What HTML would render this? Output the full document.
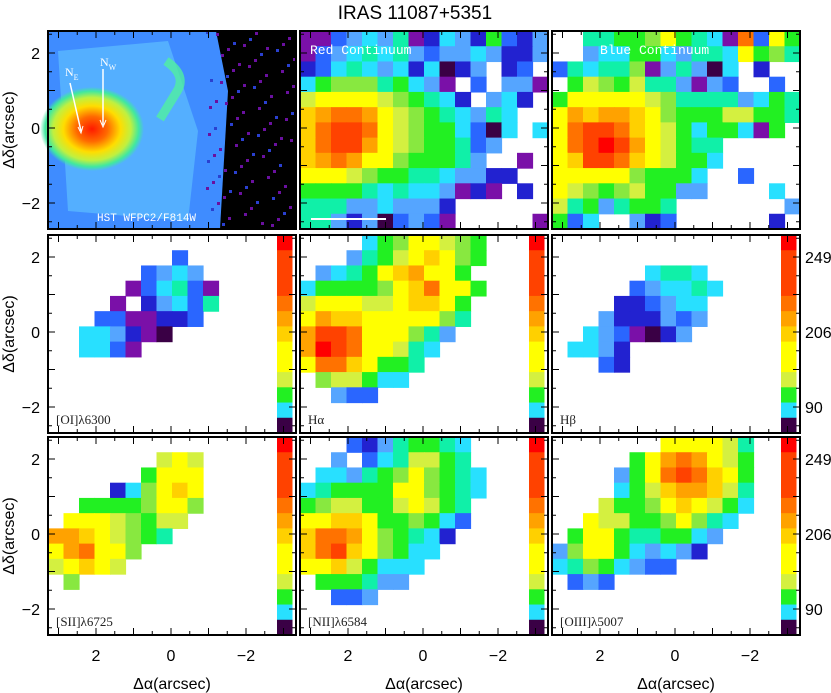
<!DOCTYPE html>
<html><head><meta charset="utf-8"><style>
body{margin:0;background:#fff;}
svg{display:block;font-family:"Liberation Sans",sans-serif;}
</style></head><body>
<svg id="fig" width="831" height="693" xmlns="http://www.w3.org/2000/svg">
<text x="415" y="19" font-size="19" text-anchor="middle">IRAS 11087+5351</text>
<g id="content"></g>
</svg>
<script>
// colour index table (0..15), '.' = no data
const palette = ["#3a0045","#7a10a8","#2222d0","#2a66ff","#55a5ff","#28e0ff","#10f0a8","#22f022","#88e840","#d4f040","#ffff00","#ffd000","#ffa200","#ff7200","#ff4200","#ff0000"];
const colorbarValues = "feeedcbaa9750";
const cbTickLabels = ["249","206","90"];
const cbTickY = [2, 0, -2];
const xTickLabels = ["2","0","\u22122"];
const xTickValues = [2, 0, -2];
const yTickValues = [2, 0, -2];

const redCont = ["1134546125427324","1345656434454224","235654525024.23.","5788867541.3.441","9aaaa987652.452.","bcddca98765465..","bdeeda98775305.5","bdeeca9877634...","bcdcaa877764..1.","aaa98776654422..","777765655412 1.2.".replace(" ",""),"666445444 2......".replace(" ",""),"66424034 31.....1".replace(" ","")];
const blueCont = ["..66778a7651d3a7","..455775466 5a786".replace(" ",""),"3656681464 05.2..".replace(" ",""),".798796641 43..3".replace(" ",""),"7aaaaa98666645 76".replace(" ",""),"acbccba8777997 76".replace(" ",""),"adeedba97577517.","adefeca9766.....","abeedba97 75.....".replace(" ",""),"aaaaa87775..3...","a98789774 4....5".replace(" ",""),"96746776.......4","735..423......2."];
const oiMap = ["...............","........3......","......3454.....",".....135631....","....1.24536....","...3311223.....","..554210.......","..5531.........","...............","...............","...............","...............","..............."];
const haMap = ["....578aa987...","...4679aba87...",".4567abcaa7....","5777 78abdaa7...".replace(" ",""),"9aaa99abba7....","acbbaaaaa86....","ceedaaa864.....","cfedaa965......","addba776.......",".899755........","..433..........","...............","..............."];
const hbMap = ["...............","...............","......5665.....",".....345565....","....223455.....","...4222434.....","..5431024......",".5542..........","...32..........","...............","...............","...............","..............."];
const siiMap = ["...............",".......9a9.....","......7aaa.....","....258aba.....","..77778aa8.....",".aaa98799......","ccba9876.......","acdaa8.........","9aba9..........",".8.............","...............","...............","..............."];
const niiMap = ["...32467765....","..4.35699 76....".replace(" ",""),".55467 8a8765...".replace(" ",""),"567777aa8765...","7899779a976....","aabba77875 3....".replace(" ",""),"bddca87652.....","bdeba8755......","aab97555.......",".777644........","..334..........","...............","..............."];
const oiiiMap = [".......aaaa96..",".....7acdca97..","....47adedba7..","....579bccb96..","...977 8aba975..".replace(" ",""),"..a99778a865...",".7aa7667754....","48aa754542.....","56875433.......",".343...........","...............","...............","..............."];

const NS="http://www.w3.org/2000/svg";
const root=document.getElementById('content');
function mk(tag,attrs,parent){const e=document.createElementNS(NS,tag);for(const k in attrs)e.setAttribute(k,attrs[k]);(parent||root).appendChild(e);return e;}
const colLeft=[48,300,552], rowTop=[31,235,437], PW=248, PH=198, CW=15.5, CH=15.23;
function xScale(c,v){return colLeft[c]+123-37.5*v;}
function yScale(r,v){return rowTop[r]+97-37.5*v;}

function drawGrid(g,c,r,grid){
  grid.forEach((row,i)=>{
    for(let j=0;j<row.length;j++){
      const ch=row[j]; if(ch==='.'||ch===' ')continue;
      const idx=parseInt(ch,16); if(isNaN(idx))continue;
      const rc=mk('rect',{x:colLeft[c]+j*CW,y:rowTop[r]+i*CH,width:CW+0.6,height:CH+0.6,fill:palette[idx]},g);
      
      
    }
  });
}
function drawColorbar(g,c,r){
  for(let i=0;i<colorbarValues.length;i++){
    const rc=mk('rect',{x:colLeft[c]+229,y:rowTop[r]+i*CH,width:15.5,height:CH+0.6,fill:palette[parseInt(colorbarValues[i],16)]},g);
    
    
  }
}
function drawFrame(g,c,r){
  const L=colLeft[c],T=rowTop[r];
  for(let v=-3;v<=3.01;v+=0.5){
    const x=xScale(c,v); if(x<L+1||x>L+PW-1)continue;
    const len=(Math.abs(v%1)<0.01)?7:4;
    mk('line',{x1:x,y1:T+PH,x2:x,y2:T+PH-len,stroke:'#000','stroke-width':1},g);
    mk('line',{x1:x,y1:T,x2:x,y2:T+len,stroke:'#000','stroke-width':1},g);
    const y=yScale(r,v); if(y<T+1||y>T+PH-1)continue;
    mk('line',{x1:L,y1:y,x2:L+len,y2:y,stroke:'#000','stroke-width':1},g);
    mk('line',{x1:L+PW,y1:y,x2:L+PW-len,y2:y,stroke:'#000','stroke-width':1},g);
  }
  const f=mk('rect',{x:L,y:T,width:PW,height:PH,fill:'none',stroke:'#000','stroke-width':2},g);
  
  
}
function label(g,c,r,txt,name){
  const t=mk('text',{x:colLeft[c]+8,y:rowTop[r]+189,'font-size':13,'font-family':'"Liberation Serif",serif',fill:'#222'},g);
  t.textContent=txt;
  
  
}

// HST panel (image)
(function(){
  const g=mk('g',{});
  
  
  const L=48,T=31;
  mk('rect',{x:L,y:T,width:PW,height:PH,fill:'#000'},g);
  const defs=mk('defs',{},g);
  const rg=mk('radialGradient',{id:'blob',cx:'0.5',cy:'0.5',r:'0.5'},defs);
  [["0","#ff1a00"],["0.3","#ff6a00"],["0.55","#ffdd00"],["0.75","#c0f040"],["0.9","#40e8a0"],["1","#40e8a0",0]].forEach(s=>{const st=mk('stop',{offset:s[0],'stop-color':s[1]},rg);if(s[2]===0)st.setAttribute('stop-opacity','0');});
  mk('path',{d:`M${L} ${T} L${L+168} ${T} L${L+180} ${T+60} L${L+172} ${T+198} L${L} ${T+198} Z`,fill:'#3f8cff'},g);
  mk('path',{d:`M${L+10} ${T+20} L${L+120} ${T+10} L${L+150} ${T+100} L${L+140} ${T+190} L${L+20} ${T+180} Z`,fill:'#5ab8ff',opacity:0.8},g);
  mk('path',{d:`M${L+118} ${T+30} Q${L+140} ${T+45} ${L+128} ${T+62} L${L+112} ${T+88}`,stroke:'#50f0a0','stroke-width':9,fill:'none',opacity:0.8},g);
  mk('ellipse',{cx:L+44,cy:T+98,rx:52,ry:42,fill:'url(#blob)'},g);
  for(let i=0;i<90;i++){const x=L+158+((i*37)%88),y=T+((i*53)%196);mk('rect',{x:x,y:y,width:3,height:3,fill:i%3?'#6a10a0':'#2a40d0'},g);}
  mk('line',{x1:L+22,y1:T+52,x2:L+33,y2:T+100,stroke:'#fff','stroke-width':1.5},g);
  mk('path',{d:`M${L+30} ${T+96} L${L+33} ${T+102} L${L+35} ${T+95}`,stroke:'#fff',fill:'none'},g);
  mk('line',{x1:L+55,y1:T+38,x2:L+55,y2:T+94,stroke:'#fff','stroke-width':1.5},g);
  mk('path',{d:`M${L+52} ${T+89} L${L+55} ${T+96} L${L+58} ${T+89}`,stroke:'#fff',fill:'none'},g);
  const ne=mk('text',{x:L+17,y:T+45,fill:'#fff','font-size':12,'font-family':'"Liberation Serif",serif'},g);ne.innerHTML='N<tspan font-size="8" dy="4">E</tspan>';
  
  const nw=mk('text',{x:L+52,y:T+35,fill:'#fff','font-size':12,'font-family':'"Liberation Serif",serif'},g);nw.innerHTML='N<tspan font-size="8" dy="4">W</tspan>';
  
  const t=mk('text',{x:L+49,y:T+190,fill:'#fff','font-size':11,'font-family':'"Liberation Mono",monospace'},g);t.textContent='HST WFPC2/F814W';
  
  drawFrame(g,0,0);
})();

const panels=[
 [1,0,redCont,'red-continuum-map',null],
 [2,0,blueCont,'blue-continuum-map',null],
 [0,1,oiMap,'oi-6300-map','[OI]\u03bb6300'],
 [1,1,haMap,'halpha-map','H\u03b1'],
 [2,1,hbMap,'hbeta-map','H\u03b2'],
 [0,2,siiMap,'sii-6725-map','[SII]\u03bb6725'],
 [1,2,niiMap,'nii-6584-map','[NII]\u03bb6584'],
 [2,2,oiiiMap,'oiii-5007-map','[OIII]\u03bb5007']
];
panels.forEach(p=>{
  const [c,r,grid,name,lab]=p;
  const g=mk('g',{});
  
  
  drawGrid(g,c,r,grid);
  if(r>0){drawColorbar(g,c,r);label(g,c,r,lab,name+'-label');}
  drawFrame(g,c,r);
});
[[1,'Red Continuum'],[2,'Blue Continuum']].forEach(a=>{
  const t=mk('text',{x:colLeft[a[0]]+(a[0]==1?10:48),y:54,fill:'#fff','font-size':13,'font-family':'"Liberation Mono",monospace'});
  t.textContent=a[1];
  
  
});
const sb=mk('line',{x1:311,y1:219,x2:386,y2:219,stroke:'#fff','stroke-width':2});


for(let r=0;r<3;r++){
  yTickValues.forEach((v,i)=>{
    const t=mk('text',{x:40,y:yScale(r,v)+6,'font-size':16,'text-anchor':'end'});
    t.textContent=xTickLabels[i];
    
    
  });
  const yt=mk('text',{x:0,y:0,'font-size':16,'text-anchor':'middle',transform:`translate(14,${rowTop[r]+99}) rotate(-90)`});
  yt.textContent='\u0394\u03b4(arcsec)';
  
  
  if(r>0){cbTickY.forEach((v,i)=>{
    const t=mk('text',{x:805,y:yScale(r,v)+6,'font-size':16});
    t.textContent=cbTickLabels[i];
    
    
  });}
}
for(let c=0;c<3;c++){
  xTickValues.forEach((v,i)=>{
    const t=mk('text',{x:xScale(c,v),y:661,'font-size':16,'text-anchor':'middle'});
    t.textContent=xTickLabels[i];
    
    
  });
  const xt=mk('text',{x:colLeft[c]+124,y:689,'font-size':16,'text-anchor':'middle'});
  xt.textContent='\u0394\u03b1(arcsec)';
  
  
}
</script>
</body></html>
